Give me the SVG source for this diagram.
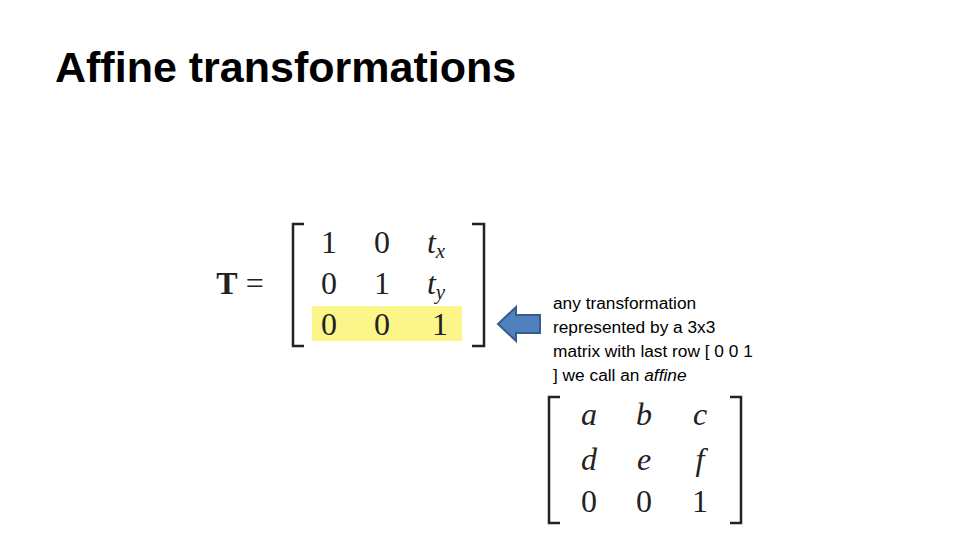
<svg xmlns="http://www.w3.org/2000/svg" width="960" height="540" viewBox="0 0 960 540">
<style>
.m{font-family:"Liberation Serif",serif;font-size:32px;fill:#222;text-anchor:middle}
.i{font-style:italic}
.b{fill:none;stroke:#222;stroke-width:2.5}
.t{font-family:"Liberation Sans",Arial,sans-serif;font-size:17.3px;fill:#000}
</style>
<rect width="960" height="540" fill="#fff"/>
<text x="55" y="82" font-family="Liberation Sans,Arial,sans-serif" font-weight="bold" font-size="43" fill="#000">Affine transformations</text>
<g id="matrixT">
<rect x="312" y="306" width="150" height="35" fill="#fbf58a"/>
<text x="240" y="294" class="m" font-size="34"><tspan font-weight="bold">T</tspan> =</text>
<path class="b" d="M304,224 H293 V346 H304"/>
<path class="b" d="M472,224 H484 V346 H472"/>
<text x="329" y="253" class="m">1</text><text x="382" y="253" class="m">0</text><text x="436" y="253" class="m i">t<tspan font-size="21" dy="5">x</tspan></text>
<text x="329" y="294" class="m">0</text><text x="382" y="294" class="m">1</text><text x="436" y="294" class="m i">t<tspan font-size="21" dy="5">y</tspan></text>
<text x="329" y="335" class="m">0</text><text x="382" y="335" class="m">0</text><text x="440" y="335" class="m">1</text>
</g>
<g id="arrow">
<path d="M498,324 L516,307 V315 H540 V333 H516 V341 Z" fill="#4f81bd" stroke="#385d8a" stroke-width="2"/>
</g>
<g id="note">
<text class="t" x="553" y="309">any transformation</text>
<text class="t" x="553" y="333">represented by a 3x3</text>
<text class="t" x="553" y="357">matrix with last row [ 0 0 1</text>
<text class="t" x="553" y="381">] we call an <tspan font-style="italic">affine</tspan></text>
</g>
<g id="matrixA">
<path class="b" d="M560,397 H549 V523 H560"/>
<path class="b" d="M730,397 H741 V523 H730"/>
<text x="589" y="425" class="m i">a</text><text x="644" y="425" class="m i">b</text><text x="700" y="425" class="m i">c</text>
<text x="589" y="470" class="m i">d</text><text x="644" y="470" class="m i">e</text><text x="700" y="470" class="m i">f</text>
<text x="589" y="512" class="m">0</text><text x="644" y="512" class="m">0</text><text x="700" y="512" class="m">1</text>
</g>
</svg>
